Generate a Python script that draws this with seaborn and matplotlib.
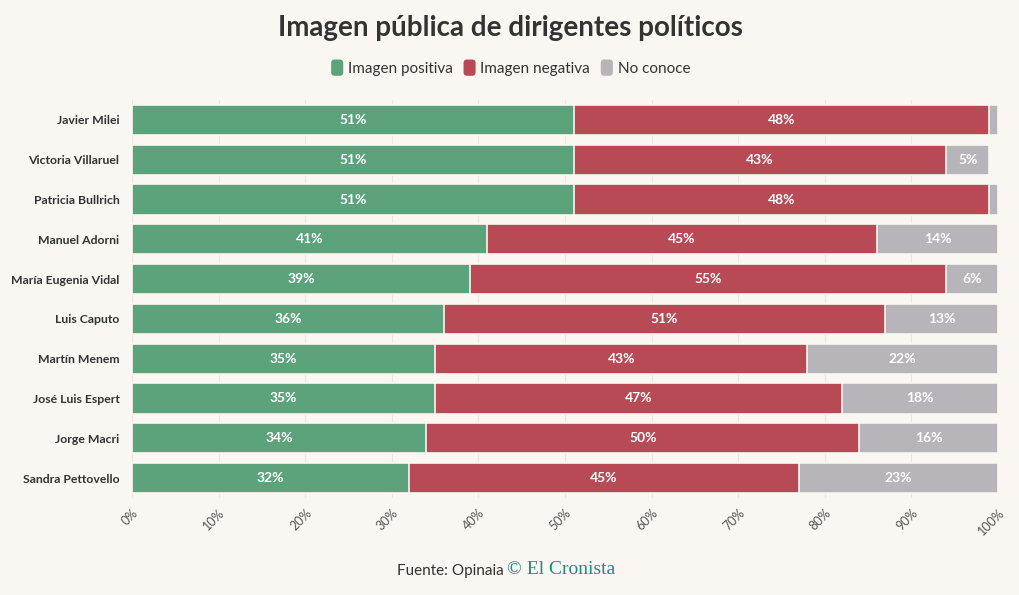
import numpy as np
import pandas as pd
import matplotlib
matplotlib.use("Agg")
import matplotlib.pyplot as plt
import seaborn as sns
from matplotlib.patches import FancyBboxPatch
from matplotlib.legend_handler import HandlerPatch

# ---- data ----
names = ["Javier Milei", "Victoria Villaruel", "Patricia Bullrich", "Manuel Adorni",
         "María Eugenia Vidal", "Luis Caputo", "Martín Menem", "José Luis Espert",
         "Jorge Macri", "Sandra Pettovello"]
positiva = [51, 51, 51, 41, 39, 36, 35, 35, 34, 32]
negativa = [48, 43, 48, 45, 55, 51, 43, 47, 50, 45]
no_conoce = [1, 5, 1, 14, 6, 13, 22, 18, 16, 23]
series_names = ["Imagen positiva", "Imagen negativa", "No conoce"]
ticks = list(range(0, 101, 10))
tick_labels = [f"{t}%" for t in ticks]

BG = "#faf6f1"
GREEN = "#5ca37c"
RED = "#b84a56"
GRAY = "#b8b5ba"
TXT = "#333333"
FONT = "Lato"

df = pd.DataFrame({"name": names, "pos": positiva, "neg": negativa, "nc": no_conoce})
df["c1"] = df["pos"]
df["c2"] = df["pos"] + df["neg"]
df["c3"] = df["c2"] + df["nc"]

plt.rcParams["font.family"] = [FONT, "DejaVu Sans"]
fig = plt.figure(figsize=(10.2, 5.95), dpi=100, facecolor=BG)
ax = fig.add_axes([132 / 1020, 1 - 498 / 595, (998 - 132) / 1020, 398 / 595])
ax.set_facecolor(BG)

# stacked bars: draw cumulative totals, widest first
for col, color in [("c3", GRAY), ("c2", RED), ("c1", GREEN)]:
    sns.barplot(data=df, x=col, y="name", orient="h", color=color, width=0.76,
                saturation=1, edgecolor=BG, linewidth=1.2, ax=ax, zorder=2)

# value labels inside segments
for i, row in df.iterrows():
    for start, val in [(0, row["pos"]), (row["c1"], row["neg"]), (row["c2"], row["nc"])]:
        if val >= 4:
            ax.text(start + val / 2, i, f"{val}%", ha="center", va="center",
                    color="white", fontsize=10, fontweight="bold", zorder=3)

ax.set_xlim(0, 100)
ax.set_ylim(9.5, -0.5)
ax.set_xticks(ticks)
ax.set_xticklabels(tick_labels, rotation=45, ha="right", rotation_mode="anchor",
                   color="#555555", fontsize=9)
ax.tick_params(axis="x", length=0, pad=6)
ax.tick_params(axis="y", length=0, pad=9)
for lab in ax.get_yticklabels():
    lab.set_fontweight("bold")
    lab.set_color(TXT)
    lab.set_fontsize(8.8)
ax.set_xlabel("")
ax.set_ylabel("")
ax.grid(axis="x", color="#ebe6e0", linewidth=0.8, zorder=0)
ax.grid(axis="y", visible=False)
for s in ax.spines.values():
    s.set_visible(False)

# title
fig.text(0.5, 1 - 28 / 595, "Imagen pública de dirigentes políticos", ha="center",
         va="center", fontsize=20, fontweight="bold", color=TXT)

# legend with rounded markers
class RoundHandler(HandlerPatch):
    def create_artists(self, legend, orig_handle, xdescent, ydescent, width, height, fontsize, trans):
        p = FancyBboxPatch((xdescent + 1, ydescent - 2), height + 1, height + 4,
                           boxstyle="round,pad=0,rounding_size=2.5",
                           facecolor=orig_handle.get_facecolor(), edgecolor="none",
                           transform=trans)
        return [p]

handles = [plt.Rectangle((0, 0), 1, 1, facecolor=c) for c in (GREEN, RED, GRAY)]
leg = fig.legend(handles, series_names, loc="center", bbox_to_anchor=(0.5, 1 - 69 / 595),
                 ncol=3, frameon=False, fontsize=11, handlelength=0.9, handletextpad=0.3,
                 columnspacing=0.6, handler_map={plt.Rectangle: RoundHandler()})
for t in leg.get_texts():
    t.set_color(TXT)

# source footer
fig.text(0.494, 1 - 571 / 595, "Fuente: Opinaia", ha="right", va="center",
         fontsize=11, color=TXT)
fig.text(0.497, 1 - 570 / 595, "© El Cronista", ha="left", va="center",
         fontsize=14, color="#1a8c7e", family=["Liberation Serif", "DejaVu Serif"])

fig.savefig("out.png", dpi=100, facecolor=BG)
